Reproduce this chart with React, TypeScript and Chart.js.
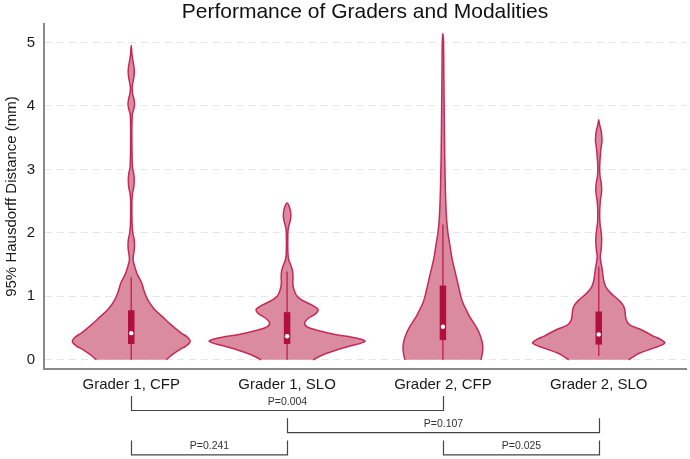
import React, { useEffect, useRef } from "react";
import { Chart, registerables } from "chart.js";

Chart.register(...registerables);

const TITLE = "Performance of Graders and Modalities";
const Y_TITLE = "95% Hausdorff Distance (mm)";
const CATEGORIES = ["Grader 1, CFP", "Grader 1, SLO", "Grader 2, CFP", "Grader 2, SLO"];
const Y_TICKS = [0, 1, 2, 3, 4, 5];

// Density outlines: distance levels (mm) and half-widths (in category units)
const G1_CFP_LEVELS = [0, 0.08, 0.157, 0.22, 0.29, 0.36, 0.42, 0.55, 0.68, 0.8, 0.945, 1.08, 1.21, 1.35, 1.47, 1.57, 1.65, 1.73, 1.81, 1.9, 2.0, 2.15, 2.5, 2.62, 2.72, 2.83, 2.93, 3.03, 3.4, 3.85, 3.95, 4.03, 4.12, 4.2, 4.3, 4.4, 4.5, 4.58, 4.68, 4.8, 4.95];
const G1_CFP_WIDTHS = [0.224, 0.263, 0.308, 0.353, 0.378, 0.359, 0.321, 0.256, 0.199, 0.147, 0.106, 0.083, 0.067, 0.038, 0.022, 0.012, 0.014, 0.019, 0.021, 0.018, 0.010, 0.005, 0.004, 0.008, 0.016, 0.019, 0.016, 0.008, 0.004, 0.006, 0.016, 0.021, 0.016, 0.008, 0.006, 0.013, 0.019, 0.019, 0.013, 0.005, 0];

const G1_SLO_LEVELS = [0, 0.08, 0.157, 0.22, 0.29, 0.34, 0.4, 0.47, 0.52, 0.58, 0.65, 0.72, 0.79, 0.86, 0.93, 1.0, 1.1, 1.2, 1.3, 1.4, 1.5, 1.58, 1.7, 2.0, 2.1, 2.2, 2.3, 2.4, 2.47];
const G1_SLO_WIDTHS = [0.167, 0.231, 0.321, 0.41, 0.5, 0.449, 0.308, 0.186, 0.128, 0.112, 0.135, 0.18, 0.199, 0.16, 0.103, 0.064, 0.045, 0.037, 0.038, 0.035, 0.022, 0.01, 0.005, 0.005, 0.01, 0.021, 0.024, 0.016, 0];

const G2_CFP_LEVELS = [0, 0.1, 0.2, 0.3, 0.4, 0.5, 0.6, 0.7, 0.8, 0.9, 1.0, 1.2, 1.4, 1.6, 1.8, 2.0, 2.2, 2.5, 3.0, 3.5, 4.0, 4.5, 5.0, 5.14];
const G2_CFP_WIDTHS = [0.244, 0.253, 0.256, 0.25, 0.237, 0.218, 0.192, 0.167, 0.147, 0.128, 0.115, 0.096, 0.077, 0.058, 0.045, 0.032, 0.024, 0.018, 0.013, 0.01, 0.008, 0.006, 0.004, 0];

const G2_SLO_LEVELS = [0, 0.1, 0.18, 0.26, 0.32, 0.37, 0.47, 0.55, 0.63, 0.79, 0.87, 0.94, 1.05, 1.15, 1.25, 1.35, 1.47, 1.55, 1.63, 1.75, 1.89, 2.0, 2.15, 2.31, 2.5, 2.6, 2.68, 2.78, 2.9, 3.04, 3.3, 3.46, 3.6, 3.7, 3.78];
const G2_SLO_WIDTHS = [0.192, 0.256, 0.346, 0.423, 0.397, 0.353, 0.276, 0.199, 0.176, 0.167, 0.154, 0.128, 0.077, 0.045, 0.032, 0.026, 0.019, 0.013, 0.01, 0.016, 0.019, 0.016, 0.008, 0.006, 0.01, 0.016, 0.019, 0.016, 0.008, 0.006, 0.013, 0.021, 0.016, 0.006, 0];

// Box-plot summaries per group (mm)
const Q1 = [0.25, 0.25, 0.31, 0.24];
const MEDIANS = [0.42, 0.37, 0.52, 0.40];
const Q3 = [0.78, 0.75, 1.17, 0.76];
const WHISKER_LOW = [0, 0, 0, 0.06];
const WHISKER_HIGH = [1.30, 1.39, 2.13, 1.47];

// Pairwise comparisons (1-based group positions)
const COMPARE_FROM = [1, 2, 1, 3];
const COMPARE_TO = [3, 4, 2, 4];
const COMPARE_ROW = [0, 1, 2, 2];
const P_LABELS = ["P=0.004", "P=0.107", "P=0.241", "P=0.025"];

const FONT = '"Liberation Sans", Arial, Helvetica, sans-serif';
const VIOLIN_FILL = "#DA8BA0";
const VIOLIN_LINE = "#C42A58";
const BOX_COLOR = "#B0103E";

const OUTLINES = [
  [G1_CFP_LEVELS, G1_CFP_WIDTHS],
  [G1_SLO_LEVELS, G1_SLO_WIDTHS],
  [G2_CFP_LEVELS, G2_CFP_WIDTHS],
  [G2_SLO_LEVELS, G2_SLO_WIDTHS],
];

function violinPath(pos: number, levels: number[], widths: number[]) {
  const right = levels.map((y, i) => ({ x: pos + widths[i], y }));
  const left = levels.map((y, i) => ({ x: pos - widths[i], y })).reverse();
  return [...right, ...left.slice(1)];
}

const titleAndBrackets = {
  id: "titleAndBrackets",
  afterDraw(chart: any) {
    const { ctx, chartArea, scales } = chart;
    const xs = scales.x;
    ctx.save();
    ctx.fillStyle = "#111";
    ctx.font = `21px ${FONT}`;
    ctx.textAlign = "center";
    ctx.textBaseline = "alphabetic";
    ctx.fillText(TITLE, (chartArea.left + chartArea.right) / 2, 18);

    ctx.strokeStyle = "#444";
    ctx.lineWidth = 1.2;
    ctx.fillStyle = "#333";
    ctx.font = `10.5px ${FONT}`;
    ctx.textBaseline = "middle";
    for (let i = 0; i < P_LABELS.length; i++) {
      const x1 = Math.round(xs.getPixelForValue(COMPARE_FROM[i])) + 0.5;
      const x2 = Math.round(xs.getPixelForValue(COMPARE_TO[i])) + 0.5;
      const top = chartArea.bottom + 27 + COMPARE_ROW[i] * 22.2;
      const bottom = top + 14.5;
      ctx.beginPath();
      ctx.moveTo(x1, top);
      ctx.lineTo(x1, bottom);
      ctx.lineTo(x2, bottom);
      ctx.lineTo(x2, top);
      ctx.stroke();
      ctx.fillText(P_LABELS[i], (x1 + x2) / 2, bottom - 8.5);
    }
    ctx.restore();
  },
};

export default function App() {
  const canvasRef = useRef<HTMLCanvasElement | null>(null);

  useEffect(() => {
    if (!canvasRef.current) return;
    Chart.defaults.font.family = FONT;

    const datasets: any[] = [];
    OUTLINES.forEach(([levels, widths], i) => {
      const pos = i + 1;
      datasets.push({
        data: violinPath(pos, levels, widths),
        showLine: true,
        fill: "shape",
        backgroundColor: VIOLIN_FILL,
        borderColor: VIOLIN_LINE,
        borderWidth: 1.5,
        pointRadius: 0,
        tension: 0.35,
        order: 4,
      });
      datasets.push({
        data: [{ x: pos, y: WHISKER_LOW[i] }, { x: pos, y: WHISKER_HIGH[i] }],
        showLine: true,
        borderColor: VIOLIN_LINE,
        borderWidth: 1.5,
        pointRadius: 0,
        order: 3,
      });
      datasets.push({
        data: [{ x: pos, y: Q1[i] }, { x: pos, y: Q3[i] }],
        showLine: true,
        borderColor: BOX_COLOR,
        borderWidth: 6.5,
        borderCapStyle: "butt",
        pointRadius: 0,
        order: 2,
      });
      datasets.push({
        data: [{ x: pos, y: MEDIANS[i] }],
        showLine: false,
        pointRadius: 2.2,
        pointBorderWidth: 0,
        pointBackgroundColor: "#ffffff",
        order: 1,
      });
    });

    const chart = new Chart(canvasRef.current, {
      type: "scatter",
      data: { datasets },
      plugins: [titleAndBrackets],
      options: {
        responsive: false,
        animation: false,
        events: [],
        layout: { padding: { top: 24, right: 3, left: 0, bottom: 0 } },
        plugins: { legend: { display: false }, tooltip: { enabled: false } },
        scales: {
          x: {
            type: "linear",
            min: 0.44,
            max: 4.56,
            afterBuildTicks: (s: any) => {
              s.ticks = CATEGORIES.map((_, i) => ({ value: i + 1 }));
            },
            afterFit: (s: any) => {
              s.height = 90;
            },
            grid: { display: false, drawTicks: false },
            border: { display: true, color: "#8a8a8a", width: 2 },
            ticks: {
              callback: (v: any) => CATEGORIES[Math.round(v) - 1] ?? "",
              color: "#1a1a1a",
              font: { size: 15, family: FONT },
              padding: 7,
              maxRotation: 0,
              autoSkip: false,
            },
          },
          y: {
            type: "linear",
            min: -0.145,
            max: 5.29,
            afterBuildTicks: (s: any) => {
              s.ticks = Y_TICKS.map((v) => ({ value: v }));
            },
            afterFit: (s: any) => {
              s.width = 44;
            },
            grid: { color: "#e6e6e6", lineWidth: 1, drawTicks: false },
            border: { display: true, color: "#8a8a8a", width: 2, dash: [7, 5] },
            ticks: {
              color: "#1a1a1a",
              font: { size: 15, family: FONT },
              padding: 9,
            },
            title: {
              display: true,
              text: Y_TITLE,
              color: "#1a1a1a",
              font: { size: 15, family: FONT },
              padding: { top: 3, bottom: 0 },
            },
          },
        },
      },
    });
    return () => chart.destroy();
  }, []);

  return (
    <div style={{ position: "fixed", left: 0, top: 0, width: 690, height: 459, background: "#fff" }}>
      <canvas ref={canvasRef} width={690} height={459} />
    </div>
  );
}
